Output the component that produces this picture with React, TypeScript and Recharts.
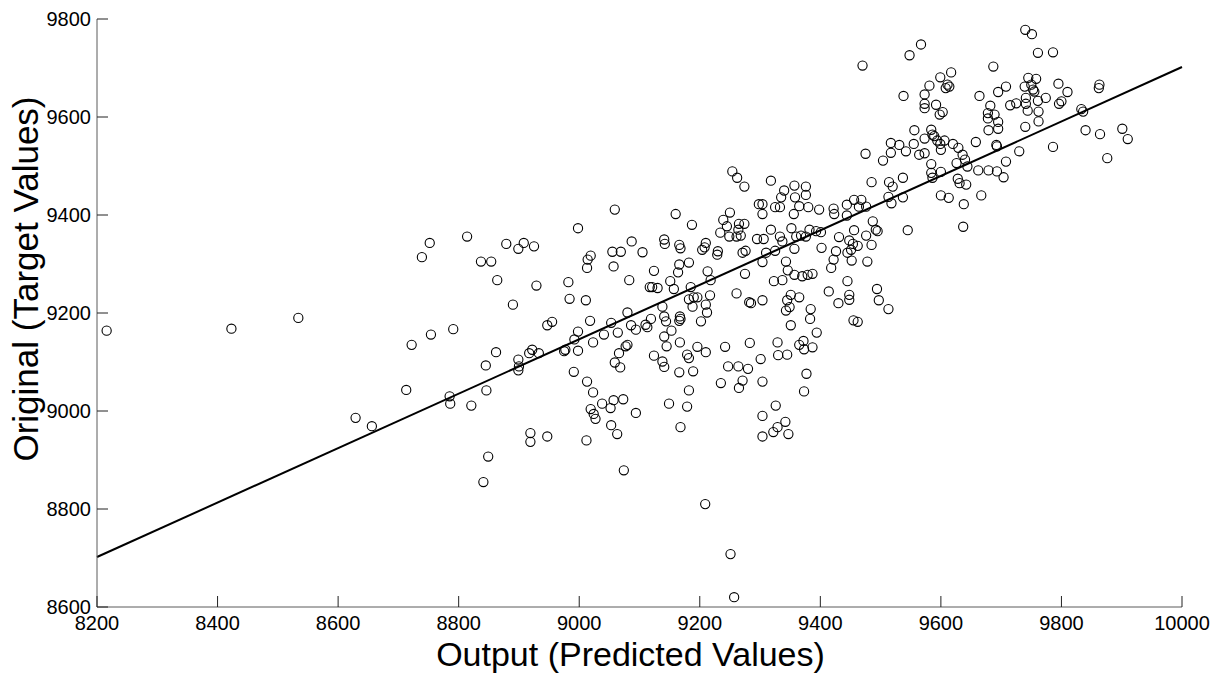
import React from "react"
import { ScatterChart, Scatter, XAxis, YAxis, ReferenceLine, Label } from "recharts"

// predicted (output) vs original (target) values
const predicted = [
  9059, 9470, 9517, 9475, 9517, 9504, 9254, 9262, 9274, 9318, 9485, 9514, 9520, 9340, 9357, 9376, 9376, 9335, 9358, 9365,
  9380, 9298, 9304, 9325, 9333, 9398, 9422, 9444, 9456, 9468, 9464, 9476, 9513, 9518, 9160, 9250, 9304, 9356, 9423,
  9740, 9751, 9567, 9548, 9761, 9786, 9687, 9617, 9599, 9581, 9611, 9614, 9608, 9745, 9758, 9739, 9750, 9753, 9708, 9695,
  9795, 9810, 9863, 9862, 9538, 9573, 9664, 9573, 9573, 9592, 9603, 9598, 9682, 9678, 9689, 9678, 9695, 9695, 9679, 9741,
  9755, 9741, 9744, 9761, 9774, 9762, 9762, 9740, 9715, 9725, 9796, 9800, 9833, 9836, 9840, 9864, 9901, 9910, 9876, 9786,
  9730, 9708, 9658, 9692, 9693, 9662, 9679, 9693, 9704, 9667, 9556, 9584, 9586, 9589, 9594, 9599, 9600, 9606, 9573, 9531,
  9542, 9555, 9564, 9573, 9620, 9629, 9636, 9640, 9644, 9584, 9584, 9586, 9600, 9626, 9628, 9631, 9642, 9537, 9537, 9600,
  9613, 9638,
  8998, 8752, 8739, 8814, 8879, 8899, 8908, 8925, 8837, 8854, 8864, 8929, 8890, 8982, 8984, 9011, 9019, 9014, 9013, 9055,
  9069, 9057, 9087, 9083, 8947, 8955, 9018, 8998, 8992, 9023, 8998, 8975, 8977, 9041, 9053, 9064, 9080, 9086, 9094, 9080,
  9077, 9066, 9059, 9068, 8991, 9013, 9023, 9038, 9057, 9073, 9052, 9019, 8791, 8754, 8722, 8862, 8845, 8899, 8900, 8899,
  8917, 8922, 8933, 8713, 8846, 8785, 8786, 8821,
  9187, 9239, 9245, 9234, 9249, 9265, 9274, 9264, 9268, 9261, 9318, 9295, 9306, 9352, 9333, 9337, 9360, 9368, 9376, 9382,
  9393, 9401, 9357, 9444, 9487, 9492, 9495, 9456, 9431, 9448, 9454, 9462, 9451, 9445, 9476, 9485, 9452, 9478, 9402, 9426,
  9422, 9418, 9445, 9448, 9448, 9430, 9414, 9494, 9497, 9513, 9455, 9462, 9343, 9346, 9357, 9370, 9379, 9387, 9323, 9337,
  9351, 9365, 9345, 9349, 9343, 9384, 9383, 9351, 9394, 9304, 9282, 9285, 9261, 9275, 9304, 9310, 9325, 9271, 9276, 9230,
  9229, 9204, 9210, 9208, 9166, 9168, 9141, 9142, 9105, 9182, 9166, 9164, 9124, 9213, 9218, 9151, 9157, 9117, 9121, 9130,
  9185, 9217, 9182, 9190, 9196, 9188, 9210, 9212, 9202, 9138, 9119, 9110, 9113, 9141, 9144, 9167, 9168, 9166, 9153, 9141,
  9145, 9167, 9196, 9210, 9179, 9182, 9124, 9138, 9141, 9166, 9189, 9182, 9149, 9179, 9242, 9283, 9301, 9247, 9264, 9280,
  9235, 9271, 9265, 9304, 9329, 9330, 9345, 9365, 9372, 9373, 9387, 9377, 9373, 9326,
  8656, 8919, 8919, 8947, 8849, 8841, 9024, 9027, 9053, 9063, 9012, 9074, 9094,
  9168, 9304, 9342, 9329, 9322, 9347, 9304, 9209, 9251, 9257,
  8216, 8423, 8534, 8629, 9545, 9637,
]

const original = [
  9411, 9705, 9547, 9525, 9527, 9511, 9489, 9476, 9458, 9470, 9467, 9467, 9458, 9450, 9460, 9458, 9441, 9436, 9436, 9418,
  9416, 9422, 9422, 9416, 9416, 9411, 9413, 9421, 9431, 9431, 9417, 9417, 9437, 9424, 9402, 9405, 9402, 9402, 9402,
  9778, 9769, 9748, 9726, 9731, 9732, 9703, 9691, 9681, 9664, 9666, 9662, 9659, 9680, 9678, 9662, 9666, 9656, 9662, 9651,
  9668, 9651, 9666, 9659, 9643, 9646, 9643, 9627, 9618, 9625, 9610, 9605, 9623, 9608, 9605, 9597, 9590, 9576, 9573, 9639,
  9652, 9627, 9613, 9633, 9639, 9611, 9591, 9580, 9624, 9628, 9627, 9632, 9616, 9611, 9573, 9565, 9576, 9555, 9516, 9539,
  9530, 9509, 9549, 9543, 9540, 9491, 9491, 9489, 9477, 9440, 9573, 9574, 9564, 9561, 9552, 9545, 9533, 9552, 9556, 9543,
  9530, 9545, 9523, 9526, 9545, 9537, 9523, 9513, 9499, 9504, 9486, 9476, 9488, 9506, 9474, 9465, 9462, 9476, 9436, 9440,
  9435, 9422,
  9373, 9343, 9314, 9356, 9341, 9331, 9343, 9336, 9305, 9305, 9267, 9256, 9217, 9263, 9229, 9226, 9317, 9309, 9292, 9325,
  9325, 9295, 9346, 9267, 9175, 9182, 9184, 9162, 9146, 9140, 9123, 9122, 9125, 9156, 9180, 9160, 9201, 9175, 9166, 9135,
  9132, 9118, 9099, 9089, 9080, 9060, 9038, 9015, 9022, 9024, 9006, 9004, 9167, 9156, 9135, 9120, 9093, 9105, 9091, 9083,
  9118, 9125, 9118, 9043, 9042, 9030, 9015, 9011,
  9380, 9390, 9377, 9364, 9356, 9382, 9382, 9370, 9358, 9356, 9370, 9351, 9351, 9373, 9356, 9346, 9356, 9358, 9356, 9370,
  9367, 9365, 9331, 9399, 9387, 9370, 9367, 9369, 9355, 9348, 9341, 9337, 9329, 9323, 9358, 9339, 9307, 9305, 9333, 9326,
  9309, 9292, 9265, 9237, 9227, 9220, 9244, 9249, 9226, 9208, 9185, 9182, 9305, 9287, 9278, 9275, 9278, 9280, 9265, 9267,
  9237, 9232, 9226, 9212, 9205, 9208, 9188, 9175, 9160, 9226, 9222, 9220, 9240, 9280, 9304, 9323, 9327, 9323, 9327, 9326,
  9319, 9329, 9343, 9334, 9339, 9332, 9350, 9341, 9324, 9303, 9299, 9283, 9286, 9285, 9267, 9265, 9249, 9253, 9253, 9251,
  9253, 9236, 9228, 9232, 9232, 9213, 9217, 9201, 9183, 9213, 9188, 9176, 9171, 9193, 9183, 9193, 9188, 9184, 9164, 9152,
  9132, 9140, 9131, 9120, 9115, 9108, 9113, 9101, 9090, 9079, 9081, 9042, 9015, 9009, 9131, 9139, 9106, 9091, 9091, 9086,
  9057, 9062, 9047, 9060, 9140, 9114, 9115, 9135, 9143, 9126, 9130, 9076, 9040, 9011,
  8969, 8955, 8937, 8948, 8907, 8855, 8994, 8984, 8971, 8953, 8940, 8879, 8996,
  8967, 8990, 8978, 8967, 8957, 8953, 8948, 8810, 8708, 8620,
  9164, 9168, 9190, 8986, 9369, 9376,
]

// least-squares line drawn in the figure
const fitX = [8200, 10000]
const fitY = [8702, 9702]

const xTicks = [8200, 8400, 8600, 8800, 9000, 9200, 9400, 9600, 9800, 10000]
const yTicks = [8600, 8800, 9000, 9200, 9400, 9600, 9800]

const points = predicted.map((x, i) => ({ x, y: original[i] }))

const FONT = "'Liberation Sans', Arial, Helvetica, sans-serif"
const TICK_LEN = 11
const GAP = 6

const YTick = ({ x, y, payload }: any) => (
  <g>
    <line x1={x + GAP} x2={x + GAP + TICK_LEN} y1={y} y2={y} stroke="#222" strokeWidth={1} />
    <text x={x} y={y} dy="0.36em" textAnchor="end" fontSize={20} fontFamily={FONT} fill="#000">
      {payload.value}
    </text>
  </g>
)

const XTick = ({ x, y, payload }: any) => (
  <g>
    <line x1={x} x2={x} y1={y - 9} y2={y - 9 - TICK_LEN} stroke="#222" strokeWidth={1} />
    <text x={x} y={y} dy="0.71em" textAnchor="middle" fontSize={20} fontFamily={FONT} fill="#000">
      {payload.value}
    </text>
  </g>
)

const Circle = (p: any) => (
  <circle cx={p.cx} cy={p.cy} r={4.6} fill="none" stroke="#000" strokeWidth={1.1} />
)

export default function App() {
  return (
    <div style={{ position: "absolute", left: 0, top: 0, width: 1224, height: 673, background: "#fff" }}>
      <ScatterChart width={1224} height={673} margin={{ top: 19, right: 42, bottom: 0, left: 0 }}>
        <XAxis
          type="number"
          dataKey="x"
          domain={[8200, 10000]}
          ticks={xTicks}
          interval={0}
          height={66}
          tickSize={0}
          tickMargin={9}
          tickLine={false}
          axisLine={{ stroke: "#5a5a5a", strokeWidth: 1 }}
          tick={<XTick />}
        >
          <Label
            content={({ viewBox }: any) => (
              <text
                x={viewBox.x + viewBox.width / 2 - 9}
                y={viewBox.y + viewBox.height - 7}
                textAnchor="middle"
                fontSize={34}
                fontFamily={FONT}
                fill="#000"
              >
                Output (Predicted Values)
              </text>
            )}
          />
        </XAxis>
        <YAxis
          type="number"
          dataKey="y"
          domain={[8600, 9800]}
          ticks={yTicks}
          interval={0}
          width={97}
          tickSize={0}
          tickMargin={GAP}
          tickLine={false}
          axisLine={{ stroke: "#5a5a5a", strokeWidth: 1 }}
          tick={<YTick />}
        >
          <Label
            content={({ viewBox }: any) => {
              const cx = 25
              const cy = viewBox.y + viewBox.height / 2 - 34
              return (
                <text
                  x={cx}
                  y={cy}
                  dy="0.36em"
                  textAnchor="middle"
                  transform={`rotate(-90 ${cx} ${cy})`}
                  fontSize={35}
                  fontFamily={FONT}
                  fill="#000"
                >
                  Original (Target Values)
                </text>
              )
            }}
          />
        </YAxis>
        <ReferenceLine
          segment={[
            { x: fitX[0], y: fitY[0] },
            { x: fitX[1], y: fitY[1] },
          ]}
          stroke="#000"
          strokeWidth={2}
        />
        <Scatter data={points} shape={<Circle />} isAnimationActive={false} />
      </ScatterChart>
    </div>
  )
}
